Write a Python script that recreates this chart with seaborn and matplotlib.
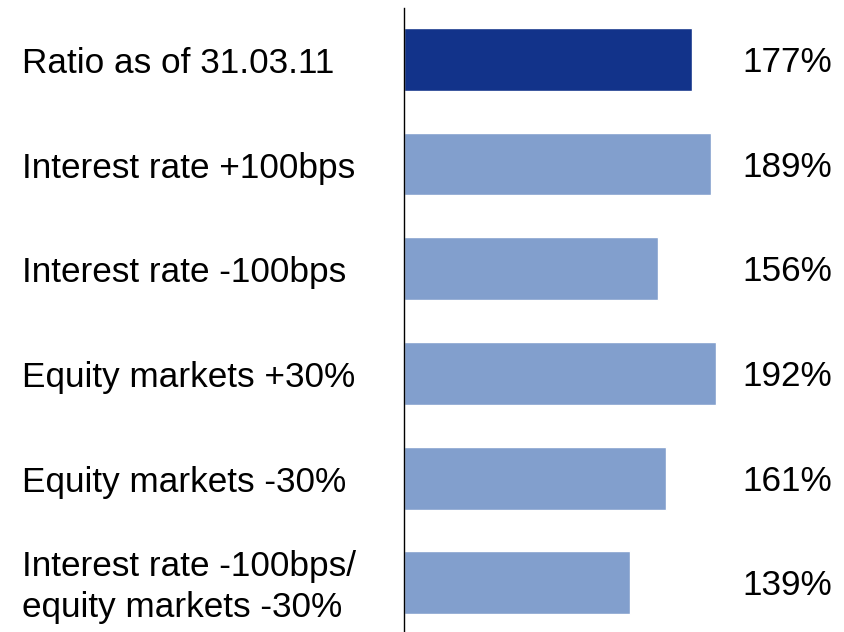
import matplotlib
matplotlib.use("Agg")
import matplotlib.pyplot as plt
import matplotlib.transforms as mtransforms
import seaborn as sns
import pandas as pd

categories = [
    "Ratio as of 31.03.11",
    "Interest rate +100bps",
    "Interest rate -100bps",
    "Equity markets +30%",
    "Equity markets -30%",
    "Interest rate -100bps/\nequity markets -30%",
]
values = [177, 189, 156, 192, 161, 139]
value_labels = ["177%", "189%", "156%", "192%", "161%", "139%"]
colors = ["#12338A", "#829FCD", "#829FCD", "#829FCD", "#829FCD", "#829FCD"]

df = pd.DataFrame({"scenario": categories, "ratio": values})

sns.set_theme(style="white")
plt.rcParams["font.family"] = ["Liberation Sans", "DejaVu Sans"]

W, H = 844, 632
fig = plt.figure(figsize=(W / 100, H / 100), dpi=100)
left_px, top_px = 404, 8
ax = fig.add_axes([left_px / W, 0, (W - left_px) / W, (H - top_px) / H])

sns.barplot(data=df, x="ratio", y="scenario", hue="scenario", palette=colors,
            orient="h", width=0.6, legend=False, ax=ax, saturation=1)

ax.set_xlim(0, (W - left_px) / 1.625)
ax.set_ylim(5.47, -0.49)
ax.set_xlabel("")
ax.set_ylabel("")
ax.set_xticks([])
ax.set_yticks([])
for side in ["top", "right", "bottom"]:
    ax.spines[side].set_visible(False)
ax.spines["left"].set_color("#000000")
ax.spines["left"].set_linewidth(1.0)

fs = 25.3
label_tr = mtransforms.blended_transform_factory(fig.transFigure, ax.transData)
for i, (cat, lab) in enumerate(zip(categories, value_labels)):
    ax.text(22 / W, i + 0.04, cat, transform=label_tr, ha="left", va="center",
            fontsize=fs, color="#000000", linespacing=1.33)
    ax.text(832 / W, i + 0.03, lab, transform=label_tr, ha="right", va="center",
            fontsize=fs, color="#000000")

fig.savefig("out.png", dpi=100, facecolor="white")
